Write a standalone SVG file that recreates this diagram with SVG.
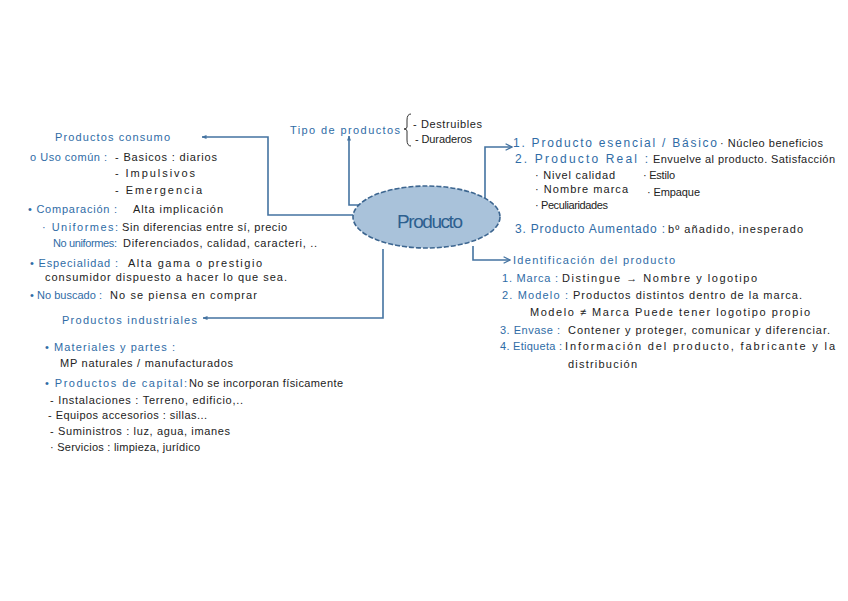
<svg xmlns="http://www.w3.org/2000/svg" width="848" height="601" viewBox="0 0 848 601">
<defs>
<style>
text{font-family:"Liberation Sans","DejaVu Sans",sans-serif;font-size:11px;lengthAdjust:spacingAndGlyphs}
.b{fill:#2f6ca6}
.k{fill:#222222}
.lg{font-size:12px}
.conn{fill:none;stroke:#4473a1;stroke-width:1.6}
</style>
<marker id="fa" viewBox="0 0 10 10" refX="9" refY="5" markerWidth="5" markerHeight="5" orient="auto-start-reverse" markerUnits="userSpaceOnUse">
<path d="M0,1 L10,5 L0,9 z" fill="#4473a1"/>
</marker>
<marker id="oa" viewBox="0 0 10 10" refX="9" refY="5" markerWidth="8" markerHeight="8" orient="auto" markerUnits="userSpaceOnUse">
<path d="M1,1 L9,5 L1,9" fill="none" stroke="#4473a1" stroke-width="1.6"/>
</marker>
</defs>
<rect width="848" height="601" fill="#ffffff"/>

<g id="connectors">
<path class="conn" d="M353,215 H268 V137 H202" marker-end="url(#fa)"/>
<path class="conn" d="M383,249 V318 H203" marker-end="url(#fa)"/>
<path class="conn" d="M360,205 H349 V136" marker-end="url(#fa)"/>
<path class="conn" d="M485,198 V147 H512" marker-end="url(#oa)"/>
<path class="conn" d="M473,246 V260 H510" marker-end="url(#oa)"/>
</g>

<g id="producto">
<ellipse cx="426.5" cy="217" rx="73.5" ry="31" fill="#a9c2da" stroke="#3d6690" stroke-width="1.6" stroke-dasharray="5 2"/>
<text x="397" y="228" textLength="66" style="font-size:19px;fill:#2d5f8f">Producto</text>
</g>

<g id="tipo">
<text class="b" x="290" y="134" textLength="110">Tipo de productos</text>
<path d="M411,114 Q407,114 407,120 V127 Q407,129 404,129 Q407,129 407,131 V140 Q407,146 411,146" fill="none" stroke="#333" stroke-width="1"/>
<text class="k" x="413" y="128" textLength="69">- Destruibles</text>
<text class="k" x="415" y="143" textLength="57">- Duraderos</text>
</g>

<g id="consumo">
<text class="b" x="55" y="141" textLength="115">Productos consumo</text>
<text class="b" x="30" y="161" textLength="77">o Uso común :</text>
<text class="k" x="115" y="161" textLength="102">- Basicos : diarios</text>
<text class="k" x="115" y="177" textLength="80">- Impulsivos</text>
<text class="k" x="115" y="194" textLength="87">- Emergencia</text>
<text class="b" x="28" y="213" textLength="89">• Comparación :</text>
<text class="k" x="133" y="213" textLength="90">Alta implicación</text>
<text class="b" x="42" y="231" textLength="76">· Uniformes:</text>
<text class="k" x="122" y="231" textLength="165">Sin diferencias entre sí, precio</text>
<text class="b" x="53" y="247" textLength="64">No uniformes:</text>
<text class="k" x="123" y="247" textLength="194">Diferenciados, calidad, caracteri, ..</text>
<text class="b" x="30" y="267" textLength="88">• Especialidad :</text>
<text class="k" x="128" y="267" textLength="134">Alta gama o prestigio</text>
<text class="k" x="45" y="281" textLength="242">consumidor dispuesto a hacer lo que sea.</text>
<text class="b" x="30" y="299" textLength="72">• No buscado :</text>
<text class="k" x="110" y="299" textLength="147">No se piensa en comprar</text>
</g>

<g id="industriales">
<text class="b" x="62" y="324" textLength="135">Productos industriales</text>
<text class="b" x="45" y="351" textLength="130">• Materiales y partes :</text>
<text class="k" x="60" y="367" textLength="173">MP naturales / manufacturados</text>
<text class="b" x="45" y="387" textLength="142">• Productos de capital:</text>
<text class="k" x="189" y="387" textLength="154">No se incorporan físicamente</text>
<text class="k" x="50" y="404" textLength="193">- Instalaciones : Terreno, edificio,..</text>
<text class="k" x="48" y="419" textLength="159">- Equipos accesorios : sillas...</text>
<text class="k" x="50" y="435" textLength="180">- Suministros : luz, agua, imanes</text>
<text class="k" x="50" y="451" textLength="150">· Servicios : limpieza, jurídico</text>
</g>

<g id="niveles">
<text class="b lg" x="513" y="147" textLength="204">1. Producto esencial / Básico</text>
<text class="k" x="720" y="147" textLength="103">· Núcleo beneficios</text>
<text class="b lg" x="515" y="163" textLength="133">2. Producto Real :</text>
<text class="k" x="653" y="163" textLength="182">Envuelve al producto. Satisfacción</text>
<text class="k" x="535" y="179" textLength="80">· Nivel calidad</text>
<text class="k" x="643" y="179" textLength="32">· Estilo</text>
<text class="k" x="535" y="193" textLength="93">· Nombre marca</text>
<text class="k" x="647" y="196" textLength="53">· Empaque</text>
<text class="k" x="535" y="209" textLength="73">· Peculiaridades</text>
<text class="b lg" x="515" y="233" textLength="150">3. Producto Aumentado :</text>
<text class="k" x="668" y="233" textLength="135">bº añadido, inesperado</text>
</g>

<g id="identificacion">
<text class="b" x="513" y="264" textLength="162">Identificación del producto</text>
<text class="b" x="502" y="282" textLength="56">1. Marca :</text>
<text class="k" x="562" y="282" textLength="195">Distingue → Nombre y logotipo</text>
<text class="b" x="502" y="299" textLength="66">2. Modelo :</text>
<text class="k" x="573" y="299" textLength="229">Productos distintos dentro de la marca.</text>
<text class="k" x="530" y="316" textLength="280">Modelo ≠ Marca   Puede tener logotipo propio</text>
<text class="b" x="500" y="334" textLength="60">3. Envase :</text>
<text class="k" x="568" y="334" textLength="262">Contener y proteger, comunicar y diferenciar.</text>
<text class="b" x="500" y="350" textLength="62">4. Etiqueta :</text>
<text class="k" x="565" y="350" textLength="270">Información del producto, fabricante y la</text>
<text class="k" x="568" y="368" textLength="69">distribución</text>
</g>
</svg>
